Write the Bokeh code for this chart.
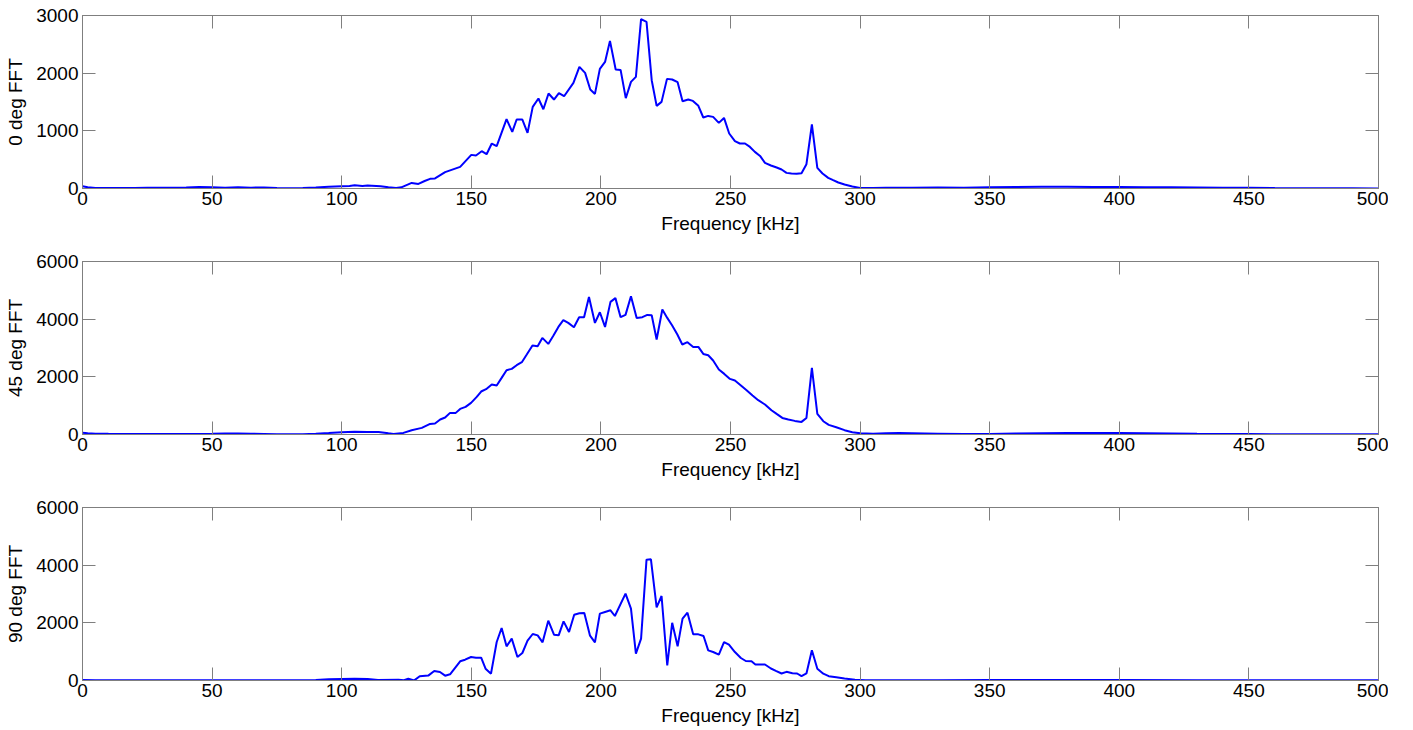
from bokeh.plotting import figure
from bokeh.layouts import column
from bokeh.models import Range1d, FixedTicker, LinearAxis, CustomJSTickFormatter
from bokeh.embed import file_html
from bokeh.resources import INLINE

# ---------------- data ----------------
x_ticks = [0, 50, 100, 150, 200, 250, 300, 350, 400, 450, 500]
y_ticks_0 = [0, 1000, 2000, 3000]
y_ticks_45 = [0, 2000, 4000, 6000]
y_ticks_90 = [0, 2000, 4000, 6000]
y_labels = ["0 deg FFT", "45 deg FFT", "90 deg FFT"]
x_label = "Frequency [kHz]"

freq_0 = [0, 2, 5, 10, 20, 25, 30, 40, 45, 50, 55, 60, 65, 70, 75, 80, 85, 90, 95, 100,
          103, 105, 108, 110, 115, 118, 121, 123, 127, 129.6, 132, 134.1, 136, 139.9, 145.7,
          150, 151.8, 154, 155.9, 157.9, 159.8, 163.6, 165.8, 167.5, 169.7, 171.7, 173.7,
          175.9, 177.8, 179.8, 181.9, 183.8, 185.8, 189.4, 191.7, 193.9, 195.9, 197.7, 199.6,
          201.6, 203.5, 205.7, 207.6, 209.6, 211.6, 213.5, 215.5, 217.6, 219.6, 221.5, 223.4,
          225.5, 227.5, 229.6, 231.5, 233.7, 235.5, 237.6, 239.5, 241.4, 243.3, 245.5, 247.5,
          249.5, 251.7, 253.6, 255.6, 257.5, 259.4, 261.4, 263.3, 265.6, 267.8, 269.7, 271.6,
          273.5, 275.5, 277.4, 279.3, 281.4, 283.5, 285.5, 287.7, 289.6, 291.6, 294, 297, 300,
          305, 310, 320, 330, 340, 350, 360, 370, 380, 390, 400, 410, 420, 430, 440, 450, 460,
          470, 480, 490, 500]
fft_0 = [40, 20, 10, 8, 10, 15, 12, 18, 25, 22, 15, 22, 15, 18, 10, 5, 8, 18, 30, 40,
         45, 55, 45, 50, 40, 20, 10, 20, 97, 80, 130, 167, 175, 283, 375,
         583, 572, 647, 595, 780, 734, 1202, 982, 1196, 1196, 965, 1415,
         1560, 1375, 1647, 1543, 1653, 1600, 1831, 2109, 2005, 1717, 1640, 2074,
         2195, 2560, 2064, 2057, 1566, 1849, 1936, 2936, 2890, 1878, 1433, 1502,
         1901, 1890, 1843, 1514, 1543, 1519, 1433, 1231, 1259, 1242, 1138, 1224,
         954, 820, 780, 780, 721, 635, 565, 444, 399, 364, 329, 271,
         260, 255, 265, 421, 1110, 357, 260, 184, 144, 104, 70, 35, 10,
         10, 12, 15, 18, 15, 20, 25, 30, 30, 28, 25, 22, 20, 18, 15, 12, 8,
         5, 5, 3, 2]

freq_45 = [0, 2, 5, 10, 20, 30, 40, 50, 55, 60, 65, 70, 75, 80, 85, 90, 95, 100, 105, 110,
           114.2, 118, 120, 123.8, 127, 130.9, 134.1, 136, 138, 139.9, 141.8, 144, 145.7,
           147.8, 149.9, 152.1, 153.8, 155.7, 157.9, 159.8, 161.7, 163.6, 165.6, 167.5,
           169.5, 171.4, 173.6, 175.6, 177.4, 179.7, 181.7, 183.6, 185.5, 187.4, 189.6,
           191.6, 193.5, 195.4, 197.7, 199.6, 201.6, 203.7, 205.6, 207.6, 209.5, 211.6,
           213.8, 216, 217.9, 219.6, 221.5, 223.7, 225.6, 227.5, 229.5, 231.4, 233.4, 235.6,
           237.6, 239.5, 241.4, 243.3, 245.5, 247.6, 249.8, 251.7, 253.9, 256.2, 258.5,
           260.7, 263.3, 265.8, 267.8, 270, 272.3, 274.8, 277.4, 279.3, 281.4, 283.5, 285.8,
           287.9, 290.8, 294, 297, 300, 305, 310, 315, 320, 330, 340, 350, 360, 370, 380,
           390, 400, 410, 420, 430, 440, 450, 460, 470, 480, 490, 500]
fft_45 = [60, 40, 30, 25, 20, 15, 20, 28, 35, 35, 30, 20, 10, 5, 10, 25, 50, 80, 95, 90,
          90, 40, 21, 55, 149, 229, 368, 381, 520, 590, 750, 750, 888,
          957, 1096, 1304, 1491, 1571, 1734, 1699, 1963, 2230, 2275, 2403,
          2507, 2774, 3086, 3062, 3350, 3142, 3433, 3731, 3964, 3870, 3721,
          4068, 4068, 4772, 3870, 4241, 3731, 4599, 4730, 4068, 4148, 4796,
          4044, 4068, 4148, 4137, 3295, 4335, 4044, 3780, 3468, 3121, 3201, 3038,
          3038, 2795, 2750, 2566, 2254, 2102, 1928, 1873, 1710, 1536, 1352,
          1189, 1040, 843, 714, 575, 520, 472, 437, 575, 2310, 714, 461,
          333, 253, 150, 80, 40, 30, 45, 50, 45, 30, 15, 20, 35, 45, 50,
          52, 50, 45, 35, 25, 20, 15, 10, 8, 5, 5, 5]

freq_90 = [0, 5, 20, 40, 60, 80, 90, 95, 100, 105, 110, 114, 121.9, 124, 125.7, 128, 130.1,
           133.4, 135.7, 137.9, 139.9, 141.8, 145.7, 147.6, 149.9, 151.8, 153.8, 155.5,
           157.6, 159.8, 161.7, 163.6, 165.6, 167.8, 169.7, 171.7, 173.7, 175.6, 177.5,
           179.7, 181.9, 183.7, 185.6, 187.7, 189.7, 191.7, 193.6, 195.8, 197.7, 199.6,
           201.6, 203.7, 205.4, 209.5, 211.6, 213.5, 215.5, 217.6, 219.3, 221.5, 223.4,
           225.6, 227.5, 229.6, 231.5, 233.4, 235.6, 237.6, 239.6, 241.4, 243.3, 245.5,
           247.5, 249.4, 251.7, 254, 255.9, 258.1, 259.6, 263.3, 265.6, 267.5, 269.7, 271.6,
           273.9, 275.7, 277.4, 279.3, 281.4, 283.5, 285.8, 287.9, 290.8, 294, 298, 302,
           310, 330, 350, 380, 400, 430, 460, 500]
fft_90 = [20, 10, 8, 10, 8, 5, 20, 40, 55, 60, 50, 20, 30, 10, 62, 5, 146,
          170, 329, 295, 167, 215, 666, 722, 815, 792, 792, 410,
          237, 1335, 1821, 1185, 1451, 815, 954, 1381, 1613, 1566, 1324,
          2075, 1590, 1566, 2052, 1682, 2283, 2330, 2340, 1555, 1324, 2318,
          2376, 2434, 2237, 3011, 2491, 931, 1451, 4190, 4202, 2538, 2930,
          521, 2000, 1185, 2144, 2352, 1601, 1601, 1543, 1046, 988, 896,
          1335, 1243, 988, 780, 676, 665, 555, 555, 416, 335, 243, 300,
          254, 243, 150, 243, 1046, 410, 237, 150, 115, 70, 30, 10,
          10, 12, 15, 20, 18, 12, 8, 5]

# ---------------- styling ----------------
FONT = "Liberation Sans"
FSIZE = "19px"
AXIS_COLOR = "#7f7f7f"
LINE_COLOR = "#0000ff"


def style_axis(ax, show_labels=True):
    ax.axis_line_color = AXIS_COLOR
    ax.major_tick_line_color = AXIS_COLOR
    ax.major_tick_in = 13
    ax.major_tick_out = 0
    ax.minor_tick_line_color = None
    ax.major_label_text_font = FONT
    ax.major_label_text_font_size = FSIZE
    ax.major_label_text_color = "#000000"
    ax.axis_label_text_font = FONT
    ax.axis_label_text_font_size = FSIZE
    ax.axis_label_text_font_style = "normal"
    ax.axis_label_text_color = "#000000"
    if not show_labels:
        ax.formatter = CustomJSTickFormatter(code="return ''")
        ax.major_label_standoff = 0


def make_panel(freq, vals, ymax, yticks, ylabel, bottom_border):
    p = figure(frame_width=1296, frame_height=173,
               x_range=Range1d(0, 500), y_range=Range1d(0, ymax),
               output_backend="svg", toolbar_location=None,
               min_border_left=82, min_border_right=10,
               min_border_top=15, min_border_bottom=bottom_border)
    p.line(freq, vals, line_color=LINE_COLOR, line_width=2)
    p.xgrid.visible = False
    p.ygrid.visible = False
    p.outline_line_color = AXIS_COLOR
    p.background_fill_color = "white"
    p.border_fill_color = "white"

    xa = p.xaxis[0]
    xa.ticker = FixedTicker(ticks=x_ticks)
    xa.axis_label = x_label
    xa.major_label_standoff = 3
    xa.axis_label_standoff = 5
    style_axis(xa)

    ya = p.yaxis[0]
    ya.ticker = FixedTicker(ticks=yticks)
    ya.axis_label = ylabel
    ya.major_label_standoff = 4
    ya.axis_label_standoff = 7
    style_axis(ya)

    top = LinearAxis(ticker=FixedTicker(ticks=x_ticks))
    style_axis(top, show_labels=False)
    p.add_layout(top, "above")
    right = LinearAxis(ticker=FixedTicker(ticks=yticks))
    style_axis(right, show_labels=False)
    p.add_layout(right, "right")
    return p


p1 = make_panel(freq_0, fft_0, 3000, y_ticks_0, y_labels[0], 58)
p2 = make_panel(freq_45, fft_45, 6000, y_ticks_45, y_labels[1], 58)
p3 = make_panel(freq_90, fft_90, 6000, y_ticks_90, y_labels[2], 45)

layout = column(p1, p2, p3)
open("out.html", "w").write(file_html(layout, INLINE))
